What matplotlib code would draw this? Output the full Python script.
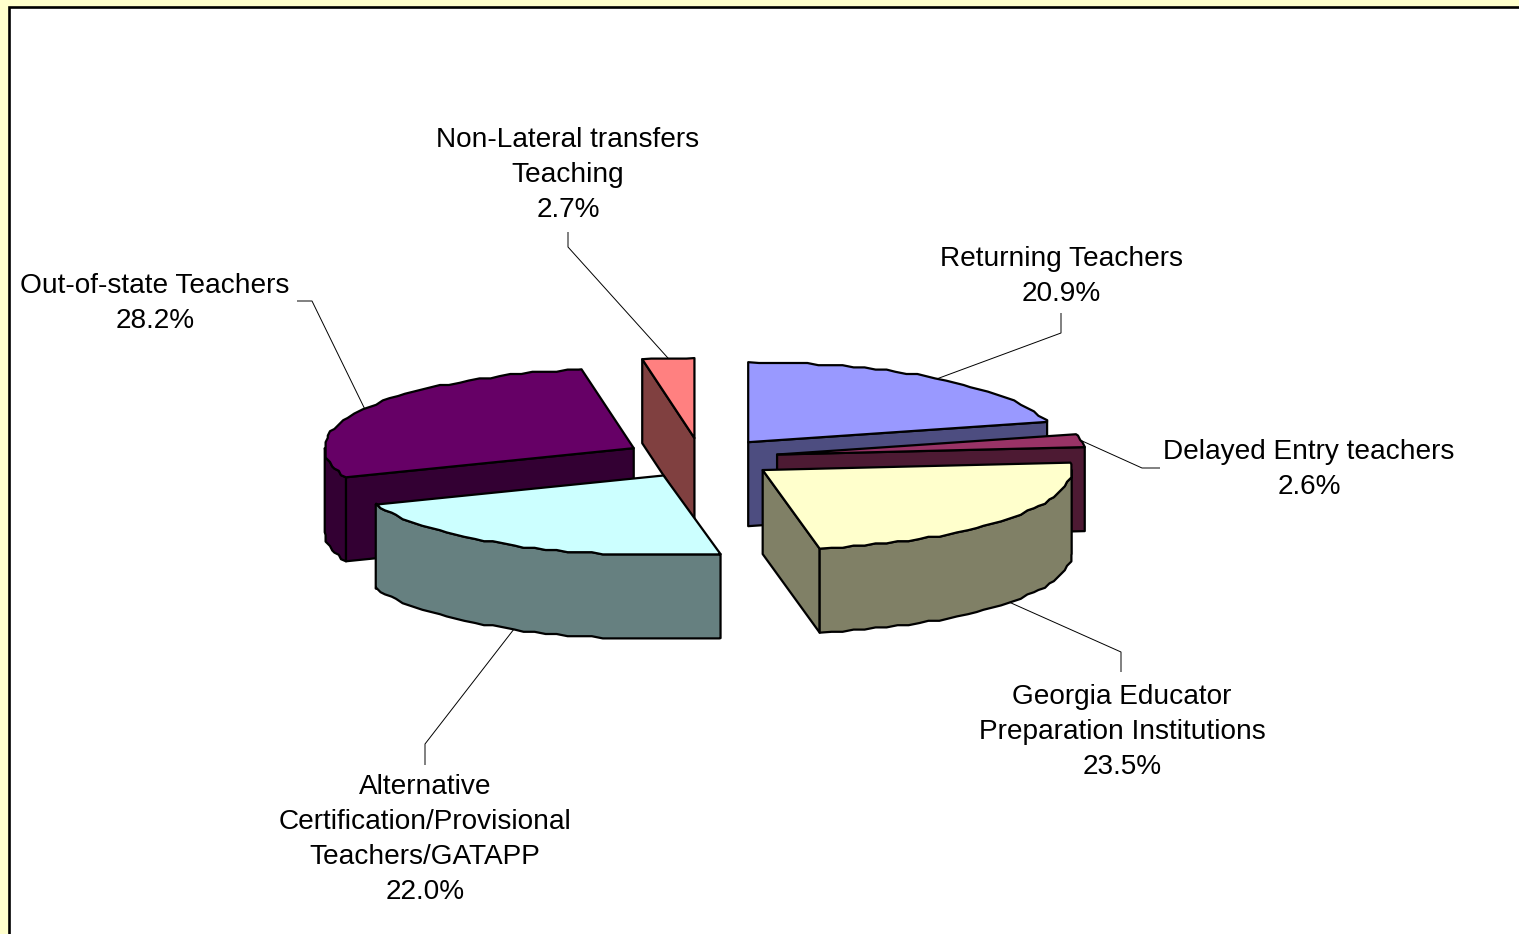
import numpy as np
import matplotlib
matplotlib.use("Agg")
import matplotlib.pyplot as plt
from matplotlib.patches import Polygon, Rectangle

categories = ["Returning Teachers", "Delayed Entry teachers",
              "Georgia Educator\nPreparation Institutions",
              "Alternative\nCertification/Provisional\nTeachers/GATAPP",
              "Out-of-state Teachers", "Non-Lateral transfers\nTeaching"]
values = [20.9, 2.6, 23.5, 22.0, 28.2, 2.7]
top_colors = ["#9999FF", "#993366", "#FFFFCC", "#CCFFFF", "#660066", "#FF8080"]
side_colors = ["#4D4D80", "#4D1A33", "#808066", "#668080", "#330033", "#804040"]

# layout (pixels)
W, H = 1519, 934
CX, CY, RX, RY, DEPTH, EXPLODE = 701, 458, 309, 80, 84, 0.25
label_xy = [(1061, 259), (1309, 452), (1122, 697), (425, 787), (155, 286), (568, 140)]
elbows = [[(1061, 333), (1061, 313)], [(1142, 468), (1160, 468)], [(1121, 652), (1121, 672)],
          [(425, 744), (425, 765)], [(312, 301), (297, 301)], [(568, 247), (568, 232)]]
LINE = 35

plt.rcParams['font.family'] = ['Liberation Sans', 'DejaVu Sans']
fig = plt.figure(figsize=(W / 100, H / 100), dpi=100, facecolor="#FFFFCC")
ax = fig.add_axes([0, 0, 1, 1])
ax.set_xlim(0, W)
ax.set_ylim(H, 0)
ax.axis("off")
ax.add_patch(Rectangle((8.5, 6.5), W + 20, H + 20, fc="white", ec="black", lw=1.9, zorder=0))


def pt(a, ox, oy, r=1.0):
    return ox + r * RX * np.sin(a), oy - r * RY * np.cos(a)


STEP = np.radians(2.2)
GRID = 2.2


def arc(a0, a1, ox, oy):
    """Outer rim on a shared angle grid; points snapped for the scalloped edge."""
    k0, k1 = int(np.ceil(a0 / STEP + 1e-6)), int(np.floor(a1 / STEP - 1e-6))
    t = np.concatenate([[a0], np.arange(k0, k1 + 1) * STEP, [a1]])
    xs, ys = pt(t, ox, oy)
    ys = np.round(ys / GRID) * GRID
    xs = np.round(xs / GRID) * GRID
    xs[0], ys[0] = pt(a0, ox, oy)
    xs[-1], ys[-1] = pt(a1, ox, oy)
    return np.column_stack([xs, ys])


total = sum(values)
edges = np.radians(np.concatenate([[0], np.cumsum(values)]) / total * 360)
mids = (edges[:-1] + edges[1:]) / 2
order = np.argsort(-np.cos(mids))
lw = 1.6
z = 2
for i in order:
    a0, a1, m = edges[i], edges[i + 1], mids[i]
    ox, oy = pt(m, CX, CY, EXPLODE)
    apex = np.array([ox, oy])
    down = np.array([0, DEPTH])
    kw = dict(ec="black", lw=lw, joinstyle="round")
    # radial faces
    for a, visible in ((a0, np.sin(a0) < -1e-6), (a1, np.sin(a1) > 1e-6)):
        if visible:
            p = np.array(pt(a, ox, oy))
            ax.add_patch(Polygon([apex, p, p + down, apex + down], fc=side_colors[i], zorder=z, **kw))
            z += 1
    # outer rim face: front half of the ellipse only
    lo, hi = max(a0, np.pi / 2), min(a1, 3 * np.pi / 2)
    if hi > lo:
        r = arc(lo, hi, ox, oy)
        ax.add_patch(Polygon(np.vstack([r, (r + down)[::-1]]), fc=side_colors[i], zorder=z, **kw))
        z += 1
    # top face
    ax.add_patch(Polygon(np.vstack([apex, arc(a0, a1, ox, oy)]), fc=top_colors[i], zorder=z, **kw))
    z += 1

# labels and leader lines
for i, (name, v) in enumerate(zip(categories, values)):
    m = mids[i]
    ox, oy = pt(m, CX, CY, EXPLODE)
    sx, sy = pt(m, ox, oy)
    if np.cos(m) < 0:
        sy += DEPTH
    pts = [(sx, sy)] + elbows[i]
    ax.plot(*zip(*pts), color="black", lw=0.7, zorder=50, solid_capstyle="butt")
    lines = name.split("\n") + [f"{v:.1f}%"]
    x, y = label_xy[i]
    for k, s in enumerate(lines):
        ax.text(x, y + k * LINE, s, ha="center", va="center", fontsize=20.2, color="black", zorder=60)

fig.savefig("out.png", dpi=100, facecolor=fig.get_facecolor())
